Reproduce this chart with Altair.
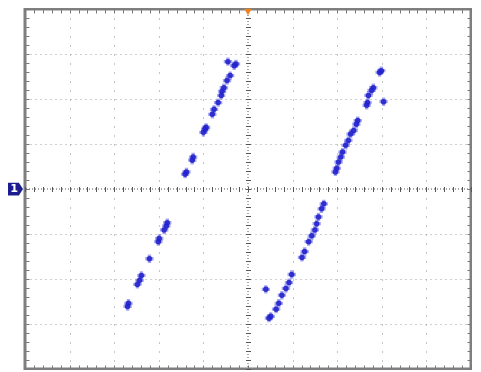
import altair as alt
import pandas as pd

ul_x = [-0.27, -0.31, -0.40, -0.47, -0.54, -0.58, -0.60, -0.67, -0.76, -0.80, -0.94, -0.96, -1.00, -1.23, -1.25, -1.38, -1.41, -0.45]
ul_y = [2.78, 2.74, 2.52, 2.41, 2.25, 2.17, 2.08, 1.92, 1.77, 1.66, 1.37, 1.33, 1.26, 0.71, 0.64, 0.38, 0.33, 2.83]
ur_x = [2.99, 2.95, 2.81, 2.77, 2.70, 2.68, 2.66, 3.04, 2.46, 2.43, 2.37, 2.30, 2.25, 2.19, 2.12, 2.08, 2.03, 1.99, 1.96]
ur_y = [2.63, 2.59, 2.25, 2.19, 2.08, 1.92, 1.86, 1.94, 1.52, 1.44, 1.30, 1.22, 1.08, 0.97, 0.82, 0.71, 0.60, 0.46, 0.38]
ll_x = [-1.81, -1.83, -1.88, -1.99, -2.01, -2.21, -2.39, -2.43, -2.48, -2.68, -2.70]
ll_y = [-0.75, -0.82, -0.91, -1.10, -1.17, -1.55, -1.92, -2.03, -2.12, -2.54, -2.61]
lr_x = [1.70, 1.65, 1.58, 1.54, 1.50, 1.43, 1.36, 1.27, 1.21, 0.98, 0.92, 0.85, 0.76, 0.69, 0.63, 0.51, 0.47, 0.40]
lr_y = [-0.33, -0.44, -0.62, -0.77, -0.91, -1.04, -1.17, -1.39, -1.52, -1.90, -2.08, -2.21, -2.36, -2.54, -2.67, -2.83, -2.87, -2.23]

div_x = [-4, -3, -2, -1, 1, 2, 3, 4]
div_y = [-3, -2, -1, 1, 2, 3]
minor_x = [round(-5 + 0.2 * i, 1) for i in range(51)]
minor_y = [round(-4 + 0.2 * i, 1) for i in range(41)]

df = pd.DataFrame({"x": ul_x + ur_x + ll_x + lr_x, "y": ul_y + ur_y + ll_y + lr_y})
zero = pd.DataFrame({"v": [0]})

W, H = 446, 360
XS = alt.Scale(domain=[-5, 5], nice=False, zero=False)
YS = alt.Scale(domain=[-4, 4], nice=False, zero=False)
TICK = "#7a7a7a"


def tick_axis(orient, values, offset, size, color=TICK):
    return alt.Axis(orient=orient, values=values, offset=offset, tickSize=size, ticks=True,
                    labels=False, domain=False, grid=False, title=None, tickColor=color,
                    tickWidth=1, minExtent=0, maxExtent=0)


base = alt.Chart(df).mark_point(opacity=0)

grid = base.encode(
    x=alt.X("x:Q", scale=XS, axis=alt.Axis(values=div_x, grid=True, gridDash=[1, 8], gridColor="#8c8c8c",
                                           labels=False, ticks=False, domain=False, title=None, minExtent=0, maxExtent=0)),
    y=alt.Y("y:Q", scale=YS, axis=alt.Axis(values=div_y, grid=True, gridDash=[1, 4], gridColor="#a0a0a0",
                                           labels=False, ticks=False, domain=False, title=None, minExtent=0, maxExtent=0)),
)

top_t = base.encode(x=alt.X("x:Q", scale=XS, axis=tick_axis("top", minor_x, -4, 4)), y=alt.Y("y:Q", scale=YS, axis=None))
bot_t = base.encode(x=alt.X("x:Q", scale=XS, axis=tick_axis("bottom", minor_x, -4, 4)), y=alt.Y("y:Q", scale=YS, axis=None))
ctr_xt = base.encode(x=alt.X("x:Q", scale=XS, axis=tick_axis("bottom", minor_x, -(H / 2 + 2.5), 5, "#555555")), y=alt.Y("y:Q", scale=YS, axis=None))
left_t = base.encode(y=alt.Y("y:Q", scale=YS, axis=tick_axis("left", minor_y, -4, 4)), x=alt.X("x:Q", scale=XS, axis=None))
right_t = base.encode(y=alt.Y("y:Q", scale=YS, axis=tick_axis("right", minor_y, -4, 4)), x=alt.X("x:Q", scale=XS, axis=None))
ctr_yt = base.encode(y=alt.Y("y:Q", scale=YS, axis=tick_axis("left", minor_y, -(W / 2 + 2.5), 5, "#555555")), x=alt.X("x:Q", scale=XS, axis=None))

hline = alt.Chart(zero).mark_rule(color="#555555", strokeDash=[1, 2], strokeWidth=1).encode(y=alt.Y("v:Q", scale=YS, axis=None))
vline = alt.Chart(zero).mark_rule(color="#555555", strokeDash=[1, 2], strokeWidth=1).encode(x=alt.X("v:Q", scale=XS, axis=None))

pts = alt.Chart(df).mark_circle(size=30, color="#2222cc", opacity=0.9).encode(
    x=alt.X("x:Q", scale=XS, axis=None), y=alt.Y("y:Q", scale=YS, axis=None))
fuzz = alt.Chart(df).mark_point(shape="cross", size=70, filled=True, color="#3a3ae0", opacity=0.45,
                                strokeWidth=0).encode(
    x=alt.X("x:Q", scale=XS, axis=None), y=alt.Y("y:Q", scale=YS, axis=None))

marker = alt.Chart(zero).mark_point(
    shape="M-1,-0.85 L0.45,-0.85 L1,0 L0.45,0.85 L-1,0.85 Z", size=225, filled=True,
    color="#1c1c90", opacity=1, strokeWidth=0).encode(
    x=alt.value(-9.5), y=alt.Y("v:Q", scale=YS, axis=None))
marker_t = alt.Chart(zero).mark_text(text="1", color="white", fontWeight="bold", fontSize=11,
                                      font="DejaVu Sans", baseline="middle", align="center").encode(
    x=alt.value(-11), y=alt.Y("v:Q", scale=YS, axis=None))

trig = alt.Chart(zero).mark_point(shape="triangle-down", size=55, filled=True, color="#f08020",
                                  opacity=1).encode(x=alt.X("v:Q", scale=XS, axis=None), y=alt.value(3))

chart = alt.layer(grid, top_t, bot_t, ctr_xt, left_t, right_t, ctr_yt, hline, vline, fuzz, pts, marker, marker_t, trig).resolve_axis(
    x="independent", y="independent"
).properties(width=W, height=H, background="white",
             padding={"left": 0, "top": 0, "right": 0, "bottom": 0}).configure_view(
    stroke="#7f7f7f", strokeWidth=3
)

chart.save("out.html", embed_options={"renderer": "svg", "actions": False})
